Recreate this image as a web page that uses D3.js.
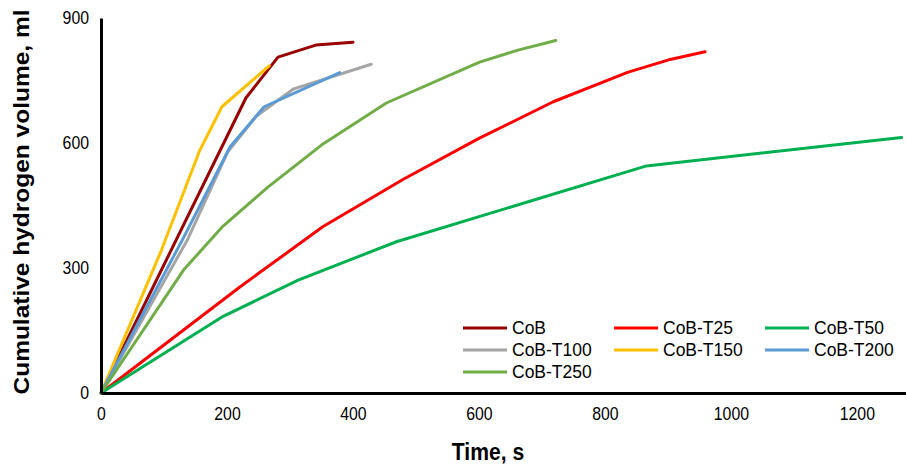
<!DOCTYPE html>
<html>
<head>
<meta charset="utf-8">
<script src="https://cdn.jsdelivr.net/npm/d3@7"></script>
<style>
  body{margin:0;background:#fff;}
  svg{display:block;font-family:"Liberation Sans",Arial,sans-serif;}
  .narrow{transform-box:fill-box;transform-origin:center;transform:scaleX(0.88);}
  .narrow-r{transform-box:fill-box;transform-origin:right center;transform:scaleX(0.88);}
</style>
</head>
<body>
<svg id="chart" width="906" height="467"></svg>
<script>
// ===== DATA (time s, cumulative volume ml) =====
const seriesNames = ["CoB","CoB-T25","CoB-T50","CoB-T100","CoB-T150","CoB-T200","CoB-T250"];
const seriesColors = ["#990000","#ff0000","#00b050","#a5a5a5","#ffc000","#5b9bd5","#70ad47"];

const cob      = [[0,0],[230,708],[281,806],[341,835],[400,842]];
const cobT25   = [[0,0],[221,255],[352,399],[480,513],[600,611],[718,699],[837,770],[900,799],[959,819]];
const cobT50   = [[0,0],[194,184],[313,271],[469,363],[866,545],[1271,613]];
const cobT100  = [[0,0],[137,367],[201,578],[247,665],[306,730],[429,789]];
const cobT150  = [[0,0],[96,343],[157,583],[192,687],[267,785]];
const cobT200  = [[0,0],[130,370],[205,591],[259,687],[379,769]];
const cobT250  = [[0,0],[131,295],[192,398],[265,494],[350,595],[453,696],[601,794],[662,823],[722,846]];
const allSeries = [cob,cobT25,cobT50,cobT100,cobT150,cobT200,cobT250];

const xTicks = [0,200,400,600,800,1000,1200];
const yTicks = [0,300,600,900];

// ===== SCALES =====
const svg = d3.select("#chart");
const x = d3.scaleLinear().domain([0,1278]).range([101,906]);
const y = d3.scaleLinear().domain([0,900]).range([393,18]);

// ===== LINES =====
const line = d3.line().x(d=>x(d[0])).y(d=>y(d[1]));
svg.append("g").selectAll("path").data(allSeries).enter().append("path")
  .attr("d",line).attr("fill","none")
  .attr("stroke",(d,i)=>seriesColors[i]).attr("stroke-width",3)
  .attr("stroke-linejoin","round").attr("stroke-linecap","round");

// ===== AXES =====
const xAxis = svg.append("g").attr("transform",`translate(0,${y(0)})`)
  .call(d3.axisBottom(x).tickValues(xTicks).tickSize(0).tickPadding(14).tickFormat(d3.format("d")));
const yAxis = svg.append("g").attr("transform",`translate(${x(0)},0)`)
  .call(d3.axisLeft(y).tickValues(yTicks).tickSize(0).tickPadding(12));
[xAxis,yAxis].forEach(a=>{
  a.select(".domain").attr("stroke","#000").attr("stroke-width",3);
  a.selectAll("text").attr("font-size",18).attr("fill","#000").attr("font-family","Liberation Sans, Arial, sans-serif");
});
xAxis.selectAll("text").attr("class","narrow");
yAxis.selectAll("text").attr("class","narrow-r");

svg.append("text").attr("x",488).attr("y",460).attr("text-anchor","middle").attr("class","narrow")
  .attr("font-size",24).attr("font-weight","bold").text("Time, s");
svg.append("text").attr("transform","translate(29,202) scale(0.88,1) rotate(-90)").attr("text-anchor","middle")
  .attr("font-size",24.5).attr("font-weight","bold").text("Cumulative hydrogen volume, ml");

// ===== LEGEND =====
const legendCols = [463,614,765], legendRows = [328,350,372];
const legend = svg.append("g").selectAll("g").data(seriesNames).enter().append("g")
  .attr("transform",(d,i)=>`translate(${legendCols[i%3]},${legendRows[Math.floor(i/3)]})`);
legend.append("line").attr("x1",0).attr("x2",44).attr("y1",0).attr("y2",0)
  .attr("stroke",(d,i)=>seriesColors[i]).attr("stroke-width",3);
legend.append("text").attr("x",49).attr("y",6).attr("font-size",17.5).text(d=>d);
</script>
</body>
</html>
